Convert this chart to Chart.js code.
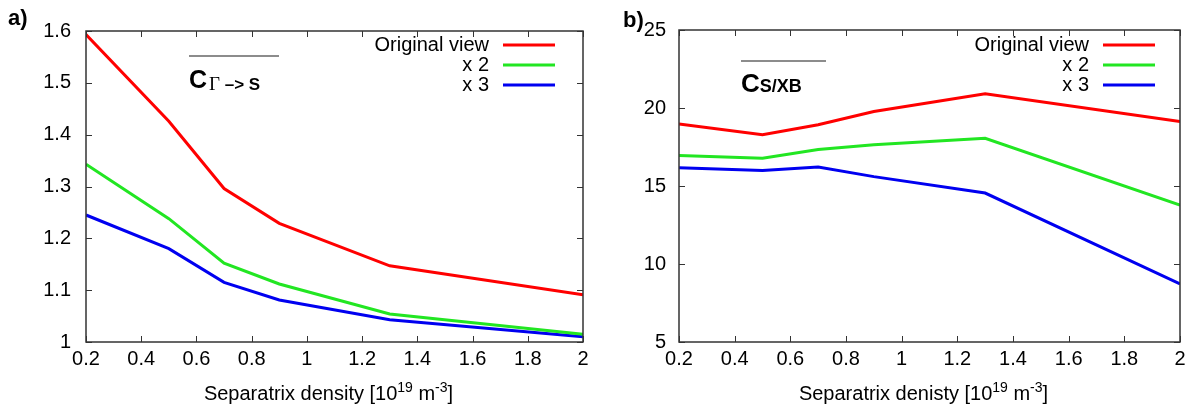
<!DOCTYPE html>
<html>
<head>
<meta charset="utf-8">
<script src="https://cdn.jsdelivr.net/npm/chart.js@4.4.1/dist/chart.umd.min.js"></script>
<style>
  html, body { margin: 0; padding: 0; background: #ffffff; }
  #wrap { position: relative; width: 1195px; height: 412px; overflow: hidden; background: #fff; }
  canvas { position: absolute; top: 0; }
  #ca { left: 0; }
  #cb { left: 600px; }
</style>
</head>
<body>
<div id="wrap">
  <canvas id="ca" width="600" height="412"></canvas>
  <canvas id="cb" width="595" height="412"></canvas>
</div>
<script>
// ---- data ----
const densities = [0.2, 0.5, 0.7, 0.9, 1.3, 2.0];
const seriesNames = ['Original view', 'x 2', 'x 3'];
const seriesColors = ['#ff0000', '#22e622', '#0000f0'];

// panel a) C_Gamma->S
const aOriginal = [1.593, 1.426, 1.296, 1.229, 1.147, 1.091];
const aX2       = [1.343, 1.238, 1.152, 1.112, 1.054, 1.015];
const aX3       = [1.245, 1.180, 1.115, 1.081, 1.043, 1.010];

// panel b) C_S/XB
const bOriginal = [18.97, 18.29, 18.93, 19.78, 20.92, 19.14];
const bX2       = [16.96, 16.78, 17.34, 17.65, 18.06, 13.77];
const bX3       = [16.17, 16.00, 16.21, 15.60, 14.55, 8.72];

const xTickMin = 0.2, xTickMax = 2, xTickStep = 0.2;
const aTickMin = 1, aTickMax = 1.6, aTickStep = 0.1;
const bTickMin = 5, bTickMax = 25, bTickStep = 5;

const FONT = "'Liberation Sans', Arial, Helvetica, sans-serif";

function pts(ys) { return densities.map((x, i) => ({ x: x, y: ys[i] })); }
function fmt(v) { return String(Math.round(v * 1000) / 1000); }

const decorPlugin = {
  id: 'decor',
  afterDraw(chart, args, o) {
    const ctx = chart.ctx;
    const ca = chart.chartArea;
    const xs = chart.scales.x, ys = chart.scales.y;
    ctx.save();
    // frame
    ctx.strokeStyle = '#333';
    ctx.lineWidth = 1.5;
    ctx.strokeRect(ca.left, ca.top, ca.right - ca.left, ca.bottom - ca.top);
    // inward ticks (mirrored)
    ctx.lineWidth = 1;
    ctx.beginPath();
    xs.ticks.forEach(t => {
      const px = Math.round(xs.getPixelForValue(t.value)) + 0.5;
      ctx.moveTo(px, ca.bottom); ctx.lineTo(px, ca.bottom - 6);
      ctx.moveTo(px, ca.top); ctx.lineTo(px, ca.top + 6);
    });
    ys.ticks.forEach(t => {
      const py = Math.round(ys.getPixelForValue(t.value)) + 0.5;
      ctx.moveTo(ca.left, py); ctx.lineTo(ca.left + 6, py);
      ctx.moveTo(ca.right, py); ctx.lineTo(ca.right - 6, py);
    });
    ctx.stroke();

    // legend
    ctx.font = '20px ' + FONT;
    ctx.textBaseline = 'middle';
    ctx.textAlign = 'right';
    chart.data.datasets.forEach((ds, i) => {
      const y = o.legendY + i * o.legendDY;
      ctx.fillStyle = '#000';
      ctx.fillText(ds.label, o.legendTextX, y);
      ctx.strokeStyle = ds.borderColor;
      ctx.lineWidth = 3;
      ctx.beginPath();
      ctx.moveTo(o.legendLineX1, y);
      ctx.lineTo(o.legendLineX2, y);
      ctx.stroke();
    });

    // annotation with overline
    ctx.strokeStyle = '#666';
    ctx.lineWidth = 1.5;
    ctx.beginPath();
    ctx.moveTo(o.annX1, o.annLineY);
    ctx.lineTo(o.annX2, o.annLineY);
    ctx.stroke();
    ctx.textAlign = 'left';
    ctx.textBaseline = 'alphabetic';
    ctx.fillStyle = '#000';
    let x = o.annX1;
    o.annParts.forEach(p => {
      ctx.font = p.font;
      ctx.fillText(p.text, x + (p.dx || 0), o.annBase + (p.dy || 0));
      x += ctx.measureText(p.text).width + (p.dx || 0);
    });

    // x axis title with superscripts
    const parts = [
      { t: o.titleMain, f: '20px ' + FONT, dy: 0 },
      { t: '19', f: '14px ' + FONT, dy: -8 },
      { t: ' m', f: '20px ' + FONT, dy: 0 },
      { t: '-3', f: '14px ' + FONT, dy: -8 },
      { t: ']', f: '20px ' + FONT, dy: 0 }
    ];
    let total = 0;
    parts.forEach(p => { ctx.font = p.f; total += ctx.measureText(p.t).width; });
    let tx = (ca.left + ca.right) / 2 + o.titleDX - total / 2;
    parts.forEach(p => {
      ctx.font = p.f;
      ctx.fillText(p.t, tx, o.titleBase + p.dy);
      tx += ctx.measureText(p.t).width;
    });

    // panel label
    ctx.font = 'bold 22px ' + FONT;
    ctx.fillText(o.panel, o.panelX, o.panelY);
    ctx.restore();
  }
};

function makeChart(id, ys3, yMin, yMax, yStep, geom, decor) {
  const ds = [ys3[0], ys3[1], ys3[2]].map((arr, i) => ({
    label: seriesNames[i],
    data: pts(arr),
    borderColor: seriesColors[i],
    backgroundColor: seriesColors[i],
    borderWidth: 3,
    pointRadius: 0,
    tension: 0,
    fill: false
  }));
  return new Chart(document.getElementById(id), {
    type: 'line',
    data: { datasets: ds },
    plugins: [decorPlugin],
    options: {
      responsive: false,
      animation: false,
      devicePixelRatio: 1,
      layout: { padding: { left: 0, right: geom.padRight, top: geom.padTop, bottom: 0 } },
      plugins: {
        legend: { display: false },
        tooltip: { enabled: false },
        decor: decor
      },
      scales: {
        x: {
          type: 'linear',
          min: xTickMin, max: xTickMax,
          border: { display: false },
          grid: { display: false, drawTicks: false },
          ticks: {
            stepSize: xTickStep,
            color: '#000',
            font: { family: FONT, size: 20 },
            padding: geom.xPad,
            maxRotation: 0,
            autoSkip: false,
            callback: v => fmt(v)
          },
          afterFit: s => { s.height = geom.xHeight; }
        },
        y: {
          type: 'linear',
          min: yMin, max: yMax,
          border: { display: false },
          grid: { display: false, drawTicks: false },
          ticks: {
            stepSize: yStep,
            color: '#000',
            font: { family: FONT, size: 20 },
            padding: geom.yPad,
            autoSkip: false,
            callback: v => fmt(v)
          },
          afterFit: s => { s.width = geom.yWidth; }
        }
      }
    }
  });
}

makeChart('ca', [aOriginal, aX2, aX3], aTickMin, aTickMax, aTickStep,
  { padRight: 17, padTop: 31, xHeight: 70, yWidth: 86, xPad: 5, yPad: 15 },
  {
    legendY: 45, legendDY: 20, legendTextX: 489, legendLineX1: 503, legendLineX2: 555,
    annX1: 189, annX2: 279, annLineY: 56, annBase: 88,
    annParts: [
      { text: 'C', font: 'bold 25px ' + FONT },
      { text: 'Γ', font: '19px "Liberation Serif", "Times New Roman", serif', dx: 2, dy: 2 },
      { text: ' –> S', font: 'bold 17px ' + FONT, dy: 2 }
    ],
    titleMain: 'Separatrix density [10', titleBase: 400, titleDX: -6,
    panel: 'a)', panelX: 8, panelY: 25
  });

makeChart('cb', [bOriginal, bX2, bX3], bTickMin, bTickMax, bTickStep,
  { padRight: 15, padTop: 30, xHeight: 70, yWidth: 79, xPad: 5, yPad: 13 },
  {
    legendY: 45, legendDY: 20, legendTextX: 489, legendLineX1: 503, legendLineX2: 555,
    annX1: 141, annX2: 226, annLineY: 61, annBase: 92,
    annParts: [
      { text: 'C', font: 'bold 26px ' + FONT },
      { text: 'S/XB', font: 'bold 18px ' + FONT, dy: 0 }
    ],
    titleMain: 'Separatrix denisty [10', titleBase: 400, titleDX: -6,
    panel: 'b)', panelX: 23, panelY: 27
  });
</script>
</body>
</html>
